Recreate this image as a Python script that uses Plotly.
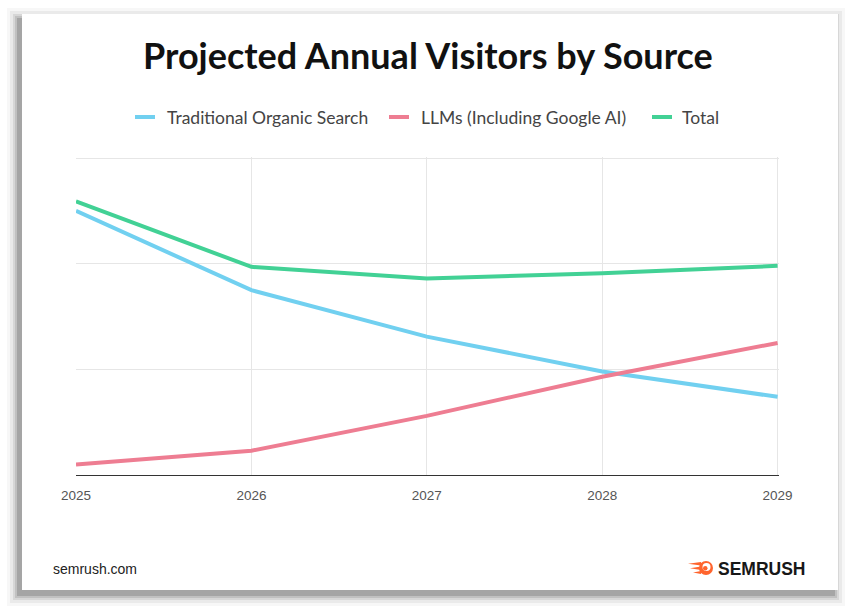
import plotly.graph_objects as go

years = [2025, 2026, 2027, 2028, 2029]
organic = [2.50, 1.75, 1.31, 0.98, 0.74]
llms = [0.10, 0.23, 0.56, 0.93, 1.25]
total = [2.59, 1.97, 1.86, 1.91, 1.98]

series_names = ["Traditional Organic Search", "LLMs (Including Google AI)", "Total"]
series_colors = ["#71d0f0", "#ee7d92", "#42d195"]

W, H = 860, 610
L, R, T, B = 76, 779, 157, 475
X_RANGE = [2025, 2029.008]
Y_RANGE = [0, 3.01]


def px(x):
    return (x - L) / (R - L)


def py(y):
    return (B - y) / (B - T)


fig = go.Figure()
for name, vals, col in zip(series_names, [organic, llms, total], series_colors):
    fig.add_trace(go.Scatter(x=years, y=vals, mode="lines", name=name,
                             line=dict(color=col, width=4), showlegend=False,
                             hoverinfo="skip"))

shapes = []
# card shadow
for grow, op in [(10, 0.03), (7, 0.05), (4, 0.08), (2, 0.10), (0, 0.14)]:
    shapes.append(dict(type="rect", xref="paper", yref="paper", layer="below",
                       x0=px(22 - 5 - grow), x1=px(838 - 3 + grow),
                       y0=py(14 + 4 - grow), y1=py(590 + 6 + grow),
                       fillcolor="black", opacity=op, line=dict(width=0)))
# card
shapes.append(dict(type="rect", xref="paper", yref="paper", layer="below",
                   x0=px(22), x1=px(838), y0=py(14), y1=py(590),
                   fillcolor="white", line=dict(width=0)))

# logo icon
orange = "#ff642d"
for (x0, y0, x1, y1, c) in [(699, 561, 713, 575, orange), (702.5, 563, 710.5, 571, "white"),
                            (703, 566, 707.5, 570.5, orange)]:
    shapes.append(dict(type="circle", xref="paper", yref="paper",
                       x0=px(x0), x1=px(x1), y0=py(y0), y1=py(y1),
                       fillcolor=c, line=dict(width=0)))
for (xa, ya, yb) in [(688, 562, 565.5), (690, 566.5, 570), (693, 571, 574)]:
    path = "M {:.5f},{:.5f} L {:.5f},{:.5f} L {:.5f},{:.5f} Z".format(
        px(xa), py((ya + yb) / 2), px(701), py(ya), px(701), py(yb))
    shapes.append(dict(type="path", xref="paper", yref="paper", path=path,
                       fillcolor=orange, line=dict(width=0)))

annotations = [
    dict(text="Projected Annual Visitors by Source", xref="paper", yref="paper",
         x=px(428), y=py(55), xanchor="center", yanchor="middle", showarrow=False,
         font=dict(family="Lato", size=36, color="#111111", weight=700)),
    dict(text="semrush.com", xref="paper", yref="paper",
         x=px(51), y=py(569), xanchor="left", yanchor="middle", showarrow=False,
         font=dict(family="Liberation Sans", size=14, color="#222222")),
    dict(text="SEMRUSH", xref="paper", yref="paper",
         x=px(716), y=py(569), xanchor="left", yanchor="middle", showarrow=False,
         font=dict(family="Liberation Sans", size=17.5, color="#171717", weight=700)),
]

# legend (custom, short line keys)
legend_line_x = [135, 389, 652]
legend_text_x = [165, 419, 680]
LEG_Y = 117
for name, col, lx, tx in zip(series_names, series_colors, legend_line_x, legend_text_x):
    shapes.append(dict(type="line", xref="paper", yref="paper",
                       x0=px(lx), x1=px(lx + 20), y0=py(LEG_Y), y1=py(LEG_Y),
                       line=dict(color=col, width=4)))
    annotations.append(dict(text=name, xref="paper", yref="paper", x=px(tx), y=py(LEG_Y),
                            xanchor="left", yanchor="middle", showarrow=False,
                            font=dict(family="Lato", size=17.5, color="#444444")))

fig.update_layout(
    width=W, height=H,
    margin=dict(l=L, r=W - R, t=T, b=H - B),
    paper_bgcolor="white", plot_bgcolor="rgba(0,0,0,0)",
    showlegend=False, hovermode=False,
    xaxis=dict(range=X_RANGE, tickvals=years, ticktext=[str(y) for y in years],
               showgrid=True, gridcolor="#e6e6e6", gridwidth=1,
               showline=True, linecolor="#333333", linewidth=1, zeroline=False,
               ticks="", tickfont=dict(family="Liberation Sans", size=13.5, color="#555555"),
               ticklabelstandoff=8, fixedrange=True),
    yaxis=dict(range=Y_RANGE, tickvals=[0, 1, 2, 3], showticklabels=False,
               showgrid=True, gridcolor="#e6e6e6", gridwidth=1, zeroline=False,
               showline=False, fixedrange=True),
    shapes=shapes, annotations=annotations,
)

fig.write_html("out.html", config={"displayModeBar": False},
               post_script="document.body.style.margin='0';")
